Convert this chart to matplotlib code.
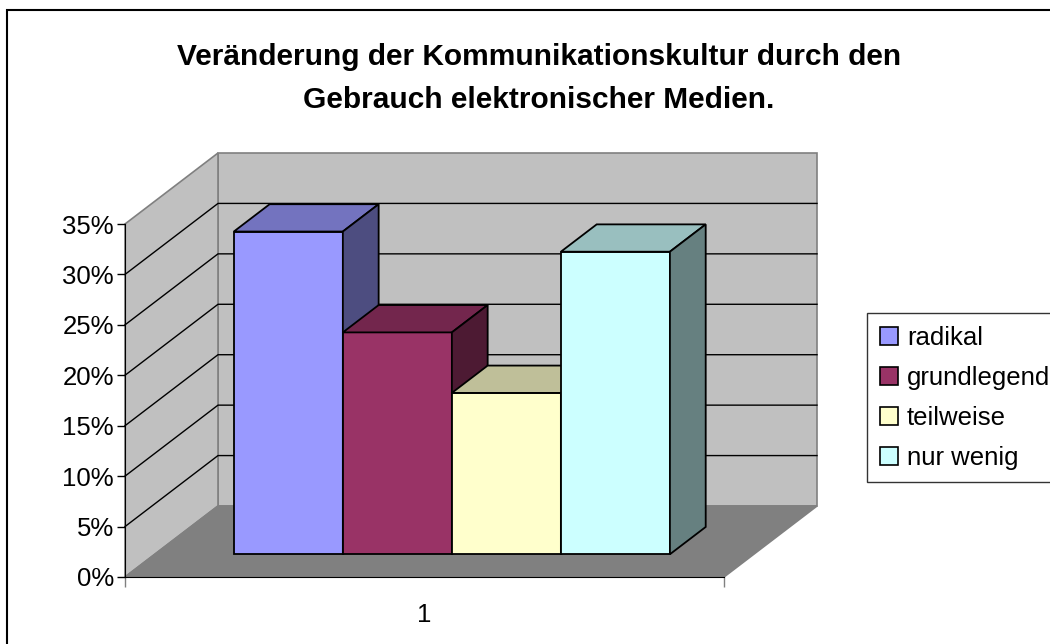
import matplotlib
matplotlib.use("Agg")
import matplotlib.pyplot as plt
from matplotlib.patches import Polygon, Patch, Rectangle
import numpy as np

# Daten
kategorien = ['radikal', 'grundlegend', 'teilweise', 'nur wenig']
werte = [32, 22, 16, 30]          # Prozent
y_ticks = [0, 5, 10, 15, 20, 25, 30, 35]
x_label = ['1']
titel1 = 'Veränderung der Kommunikationskultur durch den'
titel2 = 'Gebrauch elektronischer Medien.'

farben = ['#9999FF', '#993366', '#FFFFCC', '#CCFFFF']

plt.rcParams['font.family'] = ['Liberation Sans', 'DejaVu Sans']

W, H = 1050, 644
fig = plt.figure(figsize=(W / 100, H / 100), dpi=100)

# Achse = Vorderkante des Diagramms (links 125px, unten 577px)
ax = fig.add_axes([125 / W, (H - 577) / H, 599 / W, 353 / H])
ax.set_xlim(0, 1)
ax.set_ylim(0, 35)

# schräge Projektion: Tiefe d (0 = vorne, 1 = Rückwand)
DX = 93 / 599
DY = 71 / (353 / 35)


def P(x, y, d):
    return (x + d * DX, y + d * DY)


def poly(pts, fc, ec, lw, z):
    ax.add_patch(Polygon(pts, closed=True, facecolor=fc, edgecolor=ec,
                         linewidth=lw, clip_on=False, zorder=z))


def shade(c, f):
    r, g, b = matplotlib.colors.to_rgb(c)
    return (r * f, g * f, b * f)


ymax = y_ticks[-1]
# Wände und Boden
poly([P(0, 0, 1), P(1, 0, 1), P(1, ymax, 1), P(0, ymax, 1)], '#C0C0C0', '#808080', 1.2, 1)
poly([P(0, 0, 0), P(0, 0, 1), P(0, ymax, 1), P(0, ymax, 0)], '#C0C0C0', '#808080', 1.2, 1)
poly([P(0, 0, 0), P(1, 0, 0), P(1, 0, 1), P(0, 0, 1)], '#808080', '#808080', 1.2, 1)

# Gitterlinien
for yt in y_ticks[1:-1]:
    a, b, c = P(0, yt, 0), P(0, yt, 1), P(1, yt, 1)
    ax.plot([a[0], b[0], c[0]], [a[1], b[1], c[1]], color='black',
            lw=1.0, clip_on=False, zorder=2)

# Säulen
bw = 0.182
x_start = (1 - bw * len(werte)) / 2 - 0.004
d0, d1 = 0.32, 0.705
for i, (v, col) in enumerate(zip(werte, farben)):
    x0 = x_start + i * bw
    x1 = x0 + bw
    poly([P(x0, 0, d0), P(x1, 0, d0), P(x1, v, d0), P(x0, v, d0)], col, 'black', 1.3, 3 + i)
    poly([P(x0, v, d0), P(x1, v, d0), P(x1, v, d1), P(x0, v, d1)], shade(col, 0.75), 'black', 1.3, 3 + i)
    poly([P(x1, 0, d0), P(x1, 0, d1), P(x1, v, d1), P(x1, v, d0)], shade(col, 0.5), 'black', 1.3, 3 + i)

# Achsen
ax.patch.set_visible(False)
for s in ['top', 'right']:
    ax.spines[s].set_visible(False)
ax.spines['left'].set_zorder(10)
ax.spines['bottom'].set_zorder(10)
ax.set_yticks(y_ticks)
ax.set_yticklabels([f'{t}%' for t in y_ticks])
ax.tick_params(axis='y', direction='out', length=6, width=1, pad=2, labelsize=18.5)
ax.set_xticks([0.5])
ax.set_xticklabels(x_label)
ax.tick_params(axis='x', which='major', length=0, pad=19, labelsize=18.5)
ax.set_xticks([0, 1], minor=True)
ax.tick_params(axis='x', which='minor', direction='out', length=7, width=1, color='#808080')

# Titel
fig.text(539 / W, 1 - 57 / H, titel1, ha='center', va='center',
         fontsize=21.5, fontweight='bold')
fig.text(539 / W, 1 - 100 / H, titel2, ha='center', va='center',
         fontsize=21.5, fontweight='bold')

# Legende
handles = [Patch(facecolor=c, edgecolor='black', linewidth=1.2) for c in farben]
leg = fig.legend(handles, kategorien, loc='upper left',
                 bbox_to_anchor=(867 / W, 1 - 313 / H), fontsize=18.5,
                 frameon=True, fancybox=False, borderpad=0.5,
                 handlelength=0.7, handleheight=0.7, handletextpad=0.35,
                 labelspacing=0.62, borderaxespad=0)
leg.get_frame().set_edgecolor('black')
leg.get_frame().set_linewidth(1.0)

# Rahmen
fig.add_artist(Rectangle((7 / W, -0.1), 1.2, 1 - 10 / H + 0.1,
                         transform=fig.transFigure, fill=False,
                         edgecolor='black', linewidth=1.5))

fig.savefig('out.png', dpi=100)
